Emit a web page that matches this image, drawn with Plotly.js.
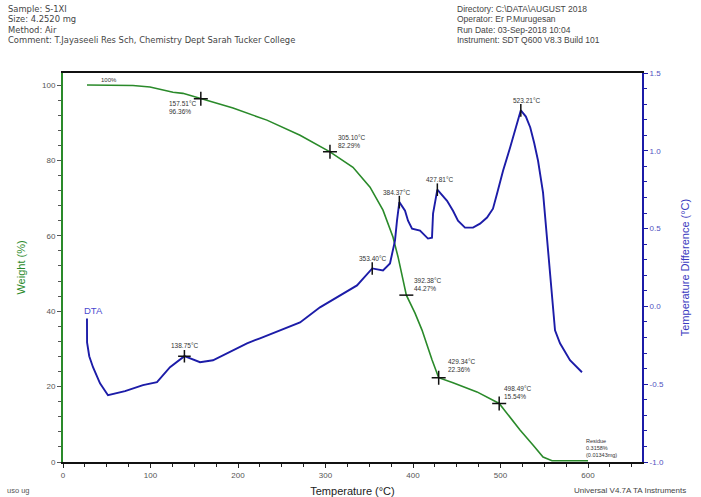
<!DOCTYPE html>
<html>
<head>
<meta charset="utf-8">
<script src="https://cdn.plot.ly/plotly-3.0.1.min.js"></script>
<style>
  html, body { margin: 0; padding: 0; background: #fff; }
  #chart { width: 701px; height: 497px; }
</style>
</head>
<body>
<div id="chart"></div>
<script>
// TGA: sample weight (%) against temperature (°C)
const tgaTemp = [27.4, 50, 80, 99.4, 125.7, 137, 157.51, 194.3, 233, 270.9, 305.10, 331.4, 350.9, 365.7, 377.1, 382.9, 388.6, 392.38, 402.3, 410.3, 421.7, 429.34, 445.7, 473.1, 498.49, 510.9, 522.3, 537.1, 548.6, 558.9, 580, 600];
const tgaWeight = [100.0, 100.0, 99.9, 99.5, 98.1, 97.8, 96.36, 93.9, 90.7, 86.7, 82.29, 78.2, 72.9, 66.8, 59.7, 54.4, 48.3, 44.27, 39.5, 35.0, 27.1, 22.36, 21.0, 18.6, 15.54, 11.9, 8.5, 4.5, 1.3, 0.35, 0.32, 0.3158];

// DTA: temperature difference (°C) against temperature (°C)
const dtaTemp = [27.4, 27.5, 30, 34.3, 42.3, 51.4, 70.9, 91.4, 107.4, 122.3, 138.75, 145.1, 156.6, 171.4, 187.4, 210.3, 225.1, 250, 270.9, 293.7, 316.6, 336, 353.40, 365.7, 373.7, 377.1, 379.4, 381.7, 384.37, 390.9, 394.3, 398.9, 408, 417.1, 421.7, 422.9, 425.1, 427.81, 438.9, 445.7, 451.4, 459.4, 468.6, 476.6, 484.6, 491.4, 496, 502.9, 510.9, 518.9, 523.21, 529, 534, 538.5, 542.9, 548.6, 554.3, 557.7, 562.3, 568, 579.4, 593.1];
const dtaDiff = [-0.077, -0.231, -0.32, -0.391, -0.494, -0.571, -0.545, -0.506, -0.487, -0.391, -0.32, -0.333, -0.359, -0.346, -0.301, -0.237, -0.205, -0.15, -0.103, -0.006, 0.071, 0.135, 0.244, 0.231, 0.276, 0.359, 0.423, 0.551, 0.67, 0.615, 0.551, 0.5, 0.487, 0.436, 0.442, 0.596, 0.679, 0.75, 0.679, 0.615, 0.551, 0.506, 0.506, 0.532, 0.571, 0.628, 0.724, 0.872, 1.019, 1.173, 1.26, 1.22, 1.15, 1.05, 0.936, 0.731, 0.359, 0.103, -0.154, -0.237, -0.346, -0.423];

// Marked weight-loss points
const tgaMarkTemp = [157.51, 305.10, 392.38, 429.34, 498.49];
const tgaMarkWeight = [96.36, 82.29, 44.27, 22.36, 15.54];
const tgaMarkSymbol = ['cross-thin', 'cross-thin', 'line-ew', 'cross-thin', 'cross-thin'];
const tgaMarkShift = [[-18, -9], [22, 10], [21, 11], [23, 12], [18, 11]];

// Residue at the end of the run
const residueTemp = 600;
const residueWeight = 0.3158;
const residueMass = '(0.01343mg)';

// Marked DTA points: two shoulders then three peaks
const dtaMarkTemp = [138.75, 353.40, 384.37, 427.81, 523.21];
const dtaMarkDiff = [-0.32, 0.244, 0.67, 0.75, 1.26];
const dtaMarkSymbol = ['cross-thin', 'line-ns', 'line-ns', 'line-ns', 'line-ns'];
const dtaMarkShift = [[0, 11], [0, 10], [-3, 10], [2, 10], [6, 10]];

// Axis ticks
const tempTicks = [0, 100, 200, 300, 400, 500, 600];
const weightTicks = [0, 20, 40, 60, 80, 100];
const diffTicks = [-1.0, -0.5, 0.0, 0.5, 1.0, 1.5];

// Run information
const headerLeft = ['Sample: S-1XI', 'Size: 4.2520 mg', 'Method: Air', 'Comment: T.Jayaseeli Res Sch, Chemistry Dept Sarah Tucker College'];
const headerRight = ['Directory: C:\\DATA\\AUGUST 2018', 'Operator: Er P.Murugesan', 'Run Date: 03-Sep-2018 10:04', 'Instrument: SDT Q600 V8.3 Build 101'];
const footerLeft = 'uso ug';
const footerRight = 'Universal V4.7A TA Instruments';

const GREEN = '#2a8a2a';
const BLUE = '#1c1ca8';
const FONT = 'Liberation Sans, Arial, sans-serif';
const WIDE_FONT = 'DejaVu Sans, Verdana, sans-serif';

const traces = [
  {
    x: tgaTemp, y: tgaWeight, yaxis: 'y', type: 'scatter', mode: 'lines',
    line: { color: GREEN, width: 1.6 }, hoverinfo: 'skip'
  },
  {
    x: dtaTemp, y: dtaDiff, yaxis: 'y2', type: 'scatter', mode: 'lines',
    line: { color: BLUE, width: 1.9 }, hoverinfo: 'skip'
  },
  {
    x: tgaMarkTemp, y: tgaMarkWeight, yaxis: 'y', type: 'scatter', mode: 'markers',
    marker: { symbol: tgaMarkSymbol, size: 10, color: '#111', line: { color: '#111', width: 1.5 } },
    hoverinfo: 'skip'
  },
  {
    x: dtaMarkTemp, y: dtaMarkDiff, yaxis: 'y2', type: 'scatter', mode: 'markers',
    marker: { symbol: dtaMarkSymbol, size: 9, color: '#111', line: { color: '#111', width: 1.5 } },
    hoverinfo: 'skip'
  }
];

const labelFont = { family: FONT, size: 6.5, color: '#333' };
const annotations = [];

tgaMarkTemp.forEach((t, i) => {
  annotations.push({
    x: t, y: tgaMarkWeight[i], xref: 'x', yref: 'y',
    text: t.toFixed(2) + '°C<br>' + tgaMarkWeight[i].toFixed(2) + '%',
    showarrow: false, align: 'left', font: labelFont,
    xshift: tgaMarkShift[i][0], yshift: tgaMarkShift[i][1]
  });
});

annotations.push({
  x: tgaTemp[1], y: tgaWeight[1], xref: 'x', yref: 'y',
  text: tgaWeight[1].toFixed(0) + '%', showarrow: false,
  font: { family: FONT, size: 6, color: '#333' }, xshift: 2, yshift: 5
});

annotations.push({
  x: residueTemp, y: residueWeight, xref: 'x', yref: 'y',
  text: 'Residue<br>' + residueWeight.toFixed(4) + '%<br>' + residueMass,
  showarrow: false, align: 'left', xanchor: 'left',
  font: { family: FONT, size: 5.5, color: '#333' }, xshift: -4, yshift: 13
});

dtaMarkTemp.forEach((t, i) => {
  annotations.push({
    x: t, y: dtaMarkDiff[i], xref: 'x', yref: 'y2',
    text: t.toFixed(2) + '°C', showarrow: false, font: labelFont,
    xshift: dtaMarkShift[i][0], yshift: dtaMarkShift[i][1]
  });
});

annotations.push({
  x: dtaTemp[0], y: dtaDiff[0], xref: 'x', yref: 'y2',
  text: 'DTA', showarrow: false, xanchor: 'left',
  font: { family: FONT, size: 9.5, color: '#4a4ad0' }, xshift: -5, yshift: 8
});

// Header and footer text, placed in plot-area (paper) units
const plotLeft = 63, plotRight = 642, plotTop = 73, plotBottom = 462;
const px = p => (p - plotLeft) / (plotRight - plotLeft);
const py = p => (plotBottom - p) / (plotBottom - plotTop);
const headerRows = [9, 19.5, 30, 40.5];
const headerFont = { family: FONT, size: 8.5, color: '#444' };
const headerLeftFont = { family: WIDE_FONT, size: 8.4, color: '#444' };

headerLeft.forEach((t, i) => annotations.push({
  xref: 'paper', yref: 'paper', x: px(6), y: py(headerRows[i]),
  xanchor: 'left', yanchor: 'middle', text: t, showarrow: false, font: headerLeftFont
}));
headerRight.forEach((t, i) => annotations.push({
  xref: 'paper', yref: 'paper', x: px(455), y: py(headerRows[i]),
  xanchor: 'left', yanchor: 'middle', text: t, showarrow: false, font: headerFont
}));
annotations.push({
  xref: 'paper', yref: 'paper', x: px(5), y: py(490),
  xanchor: 'left', yanchor: 'middle', text: footerLeft, showarrow: false,
  font: { family: FONT, size: 7.5, color: '#555' }
});
annotations.push({
  xref: 'paper', yref: 'paper', x: px(572), y: py(490),
  xanchor: 'left', yanchor: 'middle', text: footerRight, showarrow: false,
  font: { family: FONT, size: 8, color: '#444' }
});

const layout = {
  width: 701, height: 497,
  margin: { l: 63, r: 59, t: 73, b: 35, pad: 0 },
  paper_bgcolor: '#fff', plot_bgcolor: '#fff',
  showlegend: false,
  font: { family: FONT },
  xaxis: {
    range: [0, 661.7], tickvals: tempTicks, ticktext: tempTicks.map(String),
    ticks: 'outside', ticklen: 4, tickwidth: 1, tickcolor: '#222',
    minor: { dtick: 25, ticks: 'outside', ticklen: 3, tickcolor: '#222' },
    showline: true, linecolor: '#111', linewidth: 2, mirror: true,
    showgrid: false, zeroline: false,
    tickfont: { family: FONT, size: 8, color: '#555' },
    title: { text: 'Temperature (°C)', font: { family: FONT, size: 11, color: '#222' }, standoff: 12 }
  },
  yaxis: {
    range: [0, 103.2], tickvals: weightTicks, ticktext: weightTicks.map(String),
    ticks: 'outside', ticklen: 4, tickcolor: '#555',
    minor: { dtick: 4, ticks: 'outside', ticklen: 3, tickcolor: '#555' },
    showline: true, linecolor: GREEN, linewidth: 2,
    showgrid: false, zeroline: false,
    tickfont: { family: FONT, size: 8, color: '#555' },
    title: { text: 'Weight (%)', font: { family: FONT, size: 11, color: GREEN }, standoff: 14 }
  },
  yaxis2: {
    overlaying: 'y', side: 'right',
    range: [-1, 1.5], tickvals: diffTicks, ticktext: diffTicks.map(v => v.toFixed(1)),
    ticks: 'outside', ticklen: 4, tickcolor: BLUE,
    minor: { dtick: 0.1, ticks: 'outside', ticklen: 3, tickcolor: BLUE },
    showline: true, linecolor: BLUE, linewidth: 2,
    showgrid: false, zeroline: false,
    tickfont: { family: FONT, size: 8, color: '#5050c0' },
    title: { text: 'Temperature Difference (°C)', font: { family: FONT, size: 11, color: '#3a3ac0' }, standoff: 18 }
  },
  annotations: annotations
};

Plotly.newPlot('chart', traces, layout, { displayModeBar: false, staticPlot: true });
</script>
</body>
</html>
